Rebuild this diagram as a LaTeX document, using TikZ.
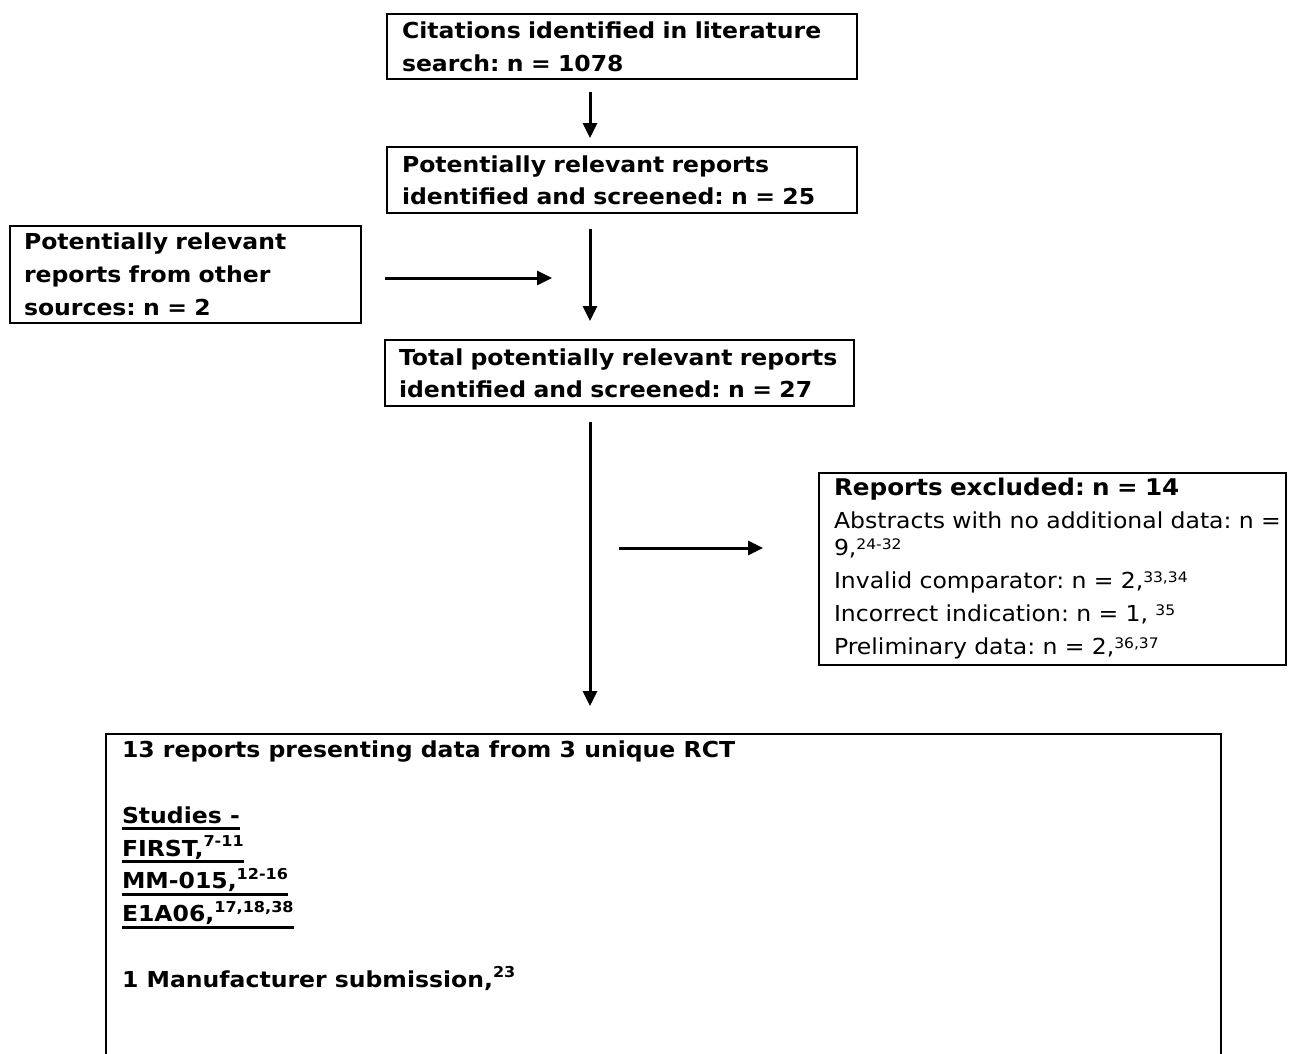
\documentclass[tikz,border=0pt]{standalone}
\usepackage{fontspec}
\setmainfont{DejaVu Sans}[FakeStretch=1.07]
\usetikzlibrary{arrows.meta,calc}
\frenchspacing
\newsavebox\ulbox
\newcommand\ulbar[1]{\sbox\ulbox{#1}\rlap{\rule[-7pt]{\wd\ulbox}{3pt}}\usebox\ulbox}
\newcommand\supb[1]{\raisebox{9.5pt}{\fontsize{15}{15}\selectfont\bfseries #1}}
\newcommand\supr[1]{\raisebox{6.5pt}{\fontsize{14.5}{14.5}\selectfont #1}}
\begin{document}
\begin{tikzpicture}[x=1pt,y=-1pt,
  box/.style={draw, line width=2pt, anchor=north west, align=left,
    inner xsep=15pt, inner ysep=0pt, font=\fontsize{22}{33}\selectfont\bfseries},
  flow/.style={line width=3pt, -{Triangle[length=15pt,width=14pt]}}]
\useasboundingbox (0,0) rectangle (1292,1053);
\node[box, minimum width=470pt, minimum height=65pt, text width=440pt] (b1) at (386,13)
  {\mbox{Citations identified in literature}\\\mbox{search: n = 1078}};
\node[box, minimum width=470pt, minimum height=66pt, text width=440pt,
  font=\fontsize{22}{32}\selectfont\bfseries] (b2) at (386,146)
  {\mbox{Potentially relevant reports}\\\mbox{identified and screened: n = 25}};
\node[box, minimum width=351pt, minimum height=97pt, text width=323pt, inner xsep=14pt] (b3) at (9,225)
  {\mbox{Potentially relevant}\\\mbox{reports from other}\\\mbox{sources: n = 2}};
\node[box, minimum width=469pt, minimum height=66pt, text width=441pt, inner xsep=14pt,
  font=\fontsize{22}{32}\selectfont\bfseries] (b4) at (384,339)
  {\mbox{Total potentially relevant reports}\\\mbox{identified and screened: n = 27}};
\node[box, minimum width=467pt, minimum height=192pt, text width=437pt,
  font=\fontsize{22}{27}\selectfont] (b5) at (818,472)
  {{\fontsize{23}{27}\selectfont\bfseries Reports excluded: n = 14}\\[6pt]
   \mbox{Abstracts with no additional data: n =}\\
   9,\supr{24-32}\\[6pt]
   \mbox{Invalid comparator: n = 2,\supr{33,34}}\\[6pt]
   \mbox{Incorrect indication: n = 1, \supr{35}}\\[6pt]
   \mbox{Preliminary data: n = 2,\supr{36,37}}};
\node[box, inner xsep=16pt, inner ysep=7pt] (b6) at (105,733)
  {\parbox[t][326pt][t]{1083pt}{\fontsize{22}{32.8}\selectfont\bfseries
   13 reports presenting data from 3 unique RCT\\
   \mbox{}\\
   \ulbar{Studies -}\\
   \ulbar{FIRST,\supb{7-11}}\\
   \ulbar{MM-015,\supb{12-16}}\\
   \ulbar{E1A06,\supb{17,18,38}}\\
   \mbox{}\\
   1 Manufacturer submission,\supb{23}}};
\coordinate (spine) at (590,0);
\coordinate (m1) at (552,278);
\coordinate (m2) at (619,548);
\draw[flow, shorten <=12pt, shorten >=8pt] (b1.south -| spine) -- (b2.north -| spine);
\draw[flow, shorten <=15pt, shorten >=18pt] (b2.south -| spine) -- (b4.north -| spine);
\draw[flow, shorten <=23pt] (b3.east |- m1) -- (m1);
\draw[flow, shorten <=15pt, shorten >=27pt] (b4.south -| spine) -- (b6.north -| spine);
\draw[flow, shorten >=55pt] (m2) -- (b5.west |- m2);
\end{tikzpicture}
\end{document}
